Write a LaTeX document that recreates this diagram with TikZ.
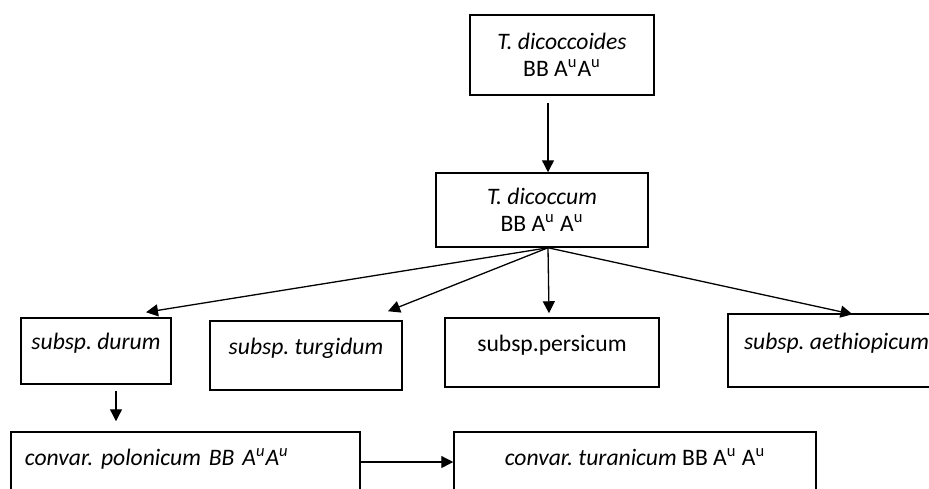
\documentclass[tikz,border=0pt]{standalone}
\usepackage{fontspec}
\setmainfont{Carlito}
\usetikzlibrary{arrows.meta}
\frenchspacing
\begin{document}
\begin{tikzpicture}[x=0.5pt, y=-0.5pt,
  every node/.style={font=\fontsize{11.8}{13.5}\selectfont},
  taxbox/.style={draw,line width=0.75pt,inner sep=0pt,align=center},
  arr/.style={-{Triangle[length=6pt,width=6pt]},line width=0.65pt}]
\useasboundingbox (0,0) rectangle (929,488);
\clip (0,0) rectangle (929,488);
\node[taxbox,minimum width=92pt,minimum height=40pt] (dicoccoides) at (562,55) {\textit{T. dicoccoides}\\BB A\textsuperscript{u}A\textsuperscript{u}};
\node[taxbox,minimum width=106pt,minimum height=37pt] (dicoccum) at (542,210) {\textit{T. dicoccum}\\BB A\textsuperscript{u} A\textsuperscript{u}};
\node[taxbox,minimum width=75pt,minimum height=33pt] (durum) at (96,351) {\textit{subsp. durum}\\[-4pt]\mbox{}};
\node[taxbox,minimum width=96pt,minimum height=34.5pt] (turgidum) at (306,355.5) {\textit{subsp. turgidum}\\[-4pt]\mbox{}};
\node[taxbox,minimum width=107pt,minimum height=34.5pt] (persicum) at (552,352.5) {subsp.persicum\\[-4pt]\mbox{}};
\node[taxbox,minimum width=108.5pt,minimum height=36.5pt] (aethiopicum) at (836.5,350.5) {\textit{subsp. aethiopicum}\\[-4pt]\mbox{}};
\node[taxbox,align=left,inner xsep=7pt,text width=160.5pt,minimum height=34.5pt] (polonicum) at (185.5,466.5) {\textit{convar. polonicum BB A\textsuperscript{u}A\textsuperscript{u}}\\[-4pt]\mbox{}};
\node[taxbox,minimum width=181pt,minimum height=34.5pt] (turanicum) at (635,466.5) {\textit{convar. turanicum} BB A\textsuperscript{u} A\textsuperscript{u}\\[-4pt]\mbox{}};
\draw[arr] ([shift={(-14,7)}]dicoccoides.south) -- ([shift={(6,0)}]dicoccum.north);
\draw[arr] ([shift={(6,0)}]dicoccum.south) -- ([shift={(50,-5)}]durum.north);
\draw[arr] ([shift={(6,0)}]dicoccum.south) -- ([shift={(82,-9)}]turgidum.north);
\draw[arr] ([shift={(6,0)}]dicoccum.south) -- ([shift={(-3,-4)}]persicum.north);
\draw[arr] ([shift={(6,0)}]dicoccum.south) -- ([shift={(16,1)}]aethiopicum.north);
\draw[arr] ([shift={(20,6)}]durum.south) -- ([shift={(-69.5,-10)}]polonicum.north);
\draw[arr] ([shift={(0,-4.5)}]polonicum.east) -- ([shift={(0,-4.5)}]turanicum.west);
\end{tikzpicture}
\end{document}
